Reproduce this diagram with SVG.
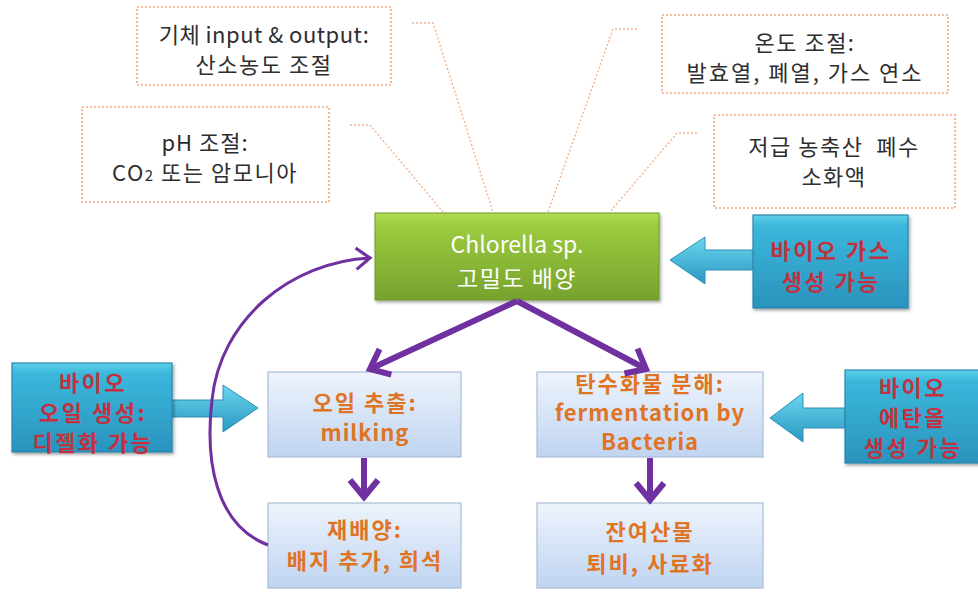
<svg xmlns="http://www.w3.org/2000/svg" width="978" height="592" viewBox="0 0 978 592">
  <style>
    .note { fill: #ffffff; stroke: #f0a878; stroke-width: 1.6; stroke-dasharray: 2 2; }
    .note-text { font-family: "Noto Sans CJK KR", "Liberation Sans", sans-serif; font-size: 22px; fill: #2e2e2e; text-anchor: middle; }
    .lead { fill: none; stroke: #f2b48c; stroke-width: 1.4; stroke-dasharray: 2 2; }
    .step { fill: url(#stepFill); stroke: #a9bcd8; stroke-width: 1.2; }
    .step-text { font-family: "Noto Sans CJK KR", "Liberation Sans", sans-serif; font-size: 22px; font-weight: bold; fill: #df7424; text-anchor: middle; }
    .bio { fill: url(#bioFill); stroke: #2b86ab; stroke-width: 1.2; }
    .bio-text { font-family: "Noto Sans CJK KR", "Liberation Sans", sans-serif; font-size: 22px; font-weight: bold; fill: #c3303f; text-anchor: middle; letter-spacing: 2.5px; }
    .bio-arrow { fill: url(#arrowFill); stroke: #2d8fb3; stroke-width: 1; }
    .main-text { font-family: "Noto Sans CJK KR", "Liberation Sans", sans-serif; font-size: 23px; fill: #ffffff; text-anchor: middle; }
    .flow { fill: none; stroke: #7030a0; stroke-width: 6; }
    .loop { fill: none; stroke: #7030a0; stroke-width: 3; }
  </style>
  <defs>
    <linearGradient id="stepFill" x1="0" y1="0" x2="0" y2="1">
      <stop offset="0" stop-color="#eef4fc"/>
      <stop offset="1" stop-color="#bfd4f1"/>
    </linearGradient>
    <linearGradient id="greenFill" x1="0" y1="0" x2="0" y2="1">
      <stop offset="0" stop-color="#b0dc52"/>
      <stop offset="0.15" stop-color="#9ccb3e"/>
      <stop offset="1" stop-color="#76a22e"/>
    </linearGradient>
    <linearGradient id="bioFill" x1="0" y1="0" x2="0" y2="1">
      <stop offset="0" stop-color="#5ed0ea"/>
      <stop offset="0.12" stop-color="#3bb7dc"/>
      <stop offset="1" stop-color="#2a93bd"/>
    </linearGradient>
    <linearGradient id="arrowFill" x1="0" y1="0" x2="0" y2="1">
      <stop offset="0" stop-color="#6ad6ee"/>
      <stop offset="1" stop-color="#2a98c2"/>
    </linearGradient>
    <filter id="shadow" x="-10%" y="-10%" width="125%" height="130%">
      <feDropShadow dx="1.5" dy="2" stdDeviation="1.5" flood-color="#000000" flood-opacity="0.35"/>
    </filter>
    <marker id="headBig" markerUnits="userSpaceOnUse" markerWidth="40" markerHeight="40" refX="0" refY="0" viewBox="-24 -20 30 40" orient="auto">
      <path d="M -17 -14 L 0 0 L -17 14" fill="none" stroke="#7030a0" stroke-width="6" stroke-linejoin="miter"/>
    </marker>
    <marker id="headThin" markerUnits="userSpaceOnUse" markerWidth="30" markerHeight="30" refX="0" refY="0" viewBox="-18 -14 22 28" orient="auto">
      <path d="M -13 -10 L 0 0 L -13 10" fill="none" stroke="#7030a0" stroke-width="3"/>
    </marker>
  </defs>

  <rect width="978" height="592" fill="#ffffff"/>

  <!-- leader lines from the notes to the culture box -->
  <g id="leaders">
    <polyline class="lead" points="412,23 433,23 493,212"/>
    <polyline class="lead" points="350,125 370,125 443,212"/>
    <polyline class="lead" points="637,29 613,29 548,212"/>
    <polyline class="lead" points="697,133 677,133 610,212"/>
  </g>

  <!-- control notes -->
  <g id="note-gas">
    <rect class="note" x="137" y="7" width="254" height="78"/>
    <text class="note-text" x="264" y="43" letter-spacing="0.5">기체 input &amp; output:</text>
    <text class="note-text" x="264" y="73" letter-spacing="1.5">산소농도 조절</text>
  </g>
  <g id="note-ph">
    <rect class="note" x="82" y="107" width="247" height="95"/>
    <text class="note-text" x="205" y="151" letter-spacing="1">pH 조절:</text>
    <text class="note-text" x="205" y="181" letter-spacing="1.5">CO<tspan font-size="15">2</tspan> 또는 암모니아</text>
  </g>
  <g id="note-temp">
    <rect class="note" x="662" y="15" width="286" height="78"/>
    <text class="note-text" x="805" y="51" letter-spacing="1.5">온도 조절:</text>
    <text class="note-text" x="805" y="81" letter-spacing="2">발효열, 폐열, 가스 연소</text>
  </g>
  <g id="note-waste">
    <rect class="note" x="714" y="115" width="241" height="93"/>
    <text class="note-text" x="834" y="155" letter-spacing="1.5" xml:space="preserve">저급 농축산  폐수</text>
    <text class="note-text" x="834" y="185" letter-spacing="1.5">소화액</text>
  </g>

  <!-- main culture -->
  <g id="culture">
    <rect x="375" y="213" width="284" height="87" fill="url(#greenFill)" stroke="#6e9a2a" stroke-width="1" filter="url(#shadow)"/>
    <text class="main-text" x="517" y="253">Chlorella sp.</text>
    <text class="main-text" x="517" y="287" letter-spacing="1.5">고밀도 배양</text>
  </g>

  <!-- by-product callouts -->
  <g id="bio-gas">
    <polygon class="bio-arrow" points="670,260 705,237 705,250 756,250 756,270 705,270 705,284"/>
    <rect class="bio" x="753" y="215" width="155" height="93" filter="url(#shadow)"/>
    <text class="bio-text" x="831" y="259">바이오 가스</text>
    <text class="bio-text" x="831" y="290">생성 가능</text>
  </g>
  <g id="bio-oil">
    <polygon class="bio-arrow" points="258,408 223,385 223,400 168,400 168,417 223,417 223,432"/>
    <rect class="bio" x="12" y="363" width="160" height="89" filter="url(#shadow)"/>
    <text class="bio-text" x="93" y="391">바이오</text>
    <text class="bio-text" x="93" y="421">오일 생성:</text>
    <text class="bio-text" x="93" y="451">디젤화 가능</text>
  </g>
  <g id="bio-ethanol">
    <polygon class="bio-arrow" points="770,418 803,393 803,408 848,408 848,428 803,428 803,442"/>
    <rect class="bio" x="845" y="370" width="140" height="93" filter="url(#shadow)"/>
    <text class="bio-text" x="913" y="396">바이오</text>
    <text class="bio-text" x="913" y="426">에탄올</text>
    <text class="bio-text" x="913" y="456">생성 가능</text>
  </g>

  <!-- process steps -->
  <g id="oil-extraction">
    <rect class="step" x="268" y="372" width="193" height="85"/>
    <text class="step-text" x="365" y="411" letter-spacing="2">오일 추출:</text>
    <text class="step-text" x="365" y="441" letter-spacing="1">milking</text>
  </g>
  <g id="reculture">
    <rect class="step" x="268" y="503" width="193" height="85"/>
    <text class="step-text" x="365" y="538" letter-spacing="2">재배양:</text>
    <text class="step-text" x="365" y="569" letter-spacing="2">배지 추가, 희석</text>
  </g>
  <g id="carb-breakdown">
    <rect class="step" x="537" y="372" width="226" height="85"/>
    <text class="step-text" x="650" y="392" font-size="21" letter-spacing="2">탄수화물 분해:</text>
    <text class="step-text" x="650" y="421" font-size="21" letter-spacing="1">fermentation by</text>
    <text class="step-text" x="650" y="450" font-size="21" letter-spacing="1">Bacteria</text>
  </g>
  <g id="residue">
    <rect class="step" x="537" y="503" width="226" height="85"/>
    <text class="step-text" x="650" y="540" letter-spacing="2">잔여산물</text>
    <text class="step-text" x="650" y="572" letter-spacing="2">퇴비, 사료화</text>
  </g>

  <!-- flow connectors -->
  <g id="connectors">
    <path class="flow" d="M 517 301 L 370 369" marker-end="url(#headBig)"/>
    <path class="flow" d="M 517 301 L 646 369" marker-end="url(#headBig)"/>
    <path class="flow" d="M 364 458 L 364 497" marker-end="url(#headBig)"/>
    <path class="flow" d="M 650 458 L 650 500" marker-end="url(#headBig)"/>
    <path class="loop" d="M 268 545 C 215 525, 205 460, 212 400 C 220 320, 290 262, 370 258" marker-end="url(#headThin)"/>
  </g>
</svg>
